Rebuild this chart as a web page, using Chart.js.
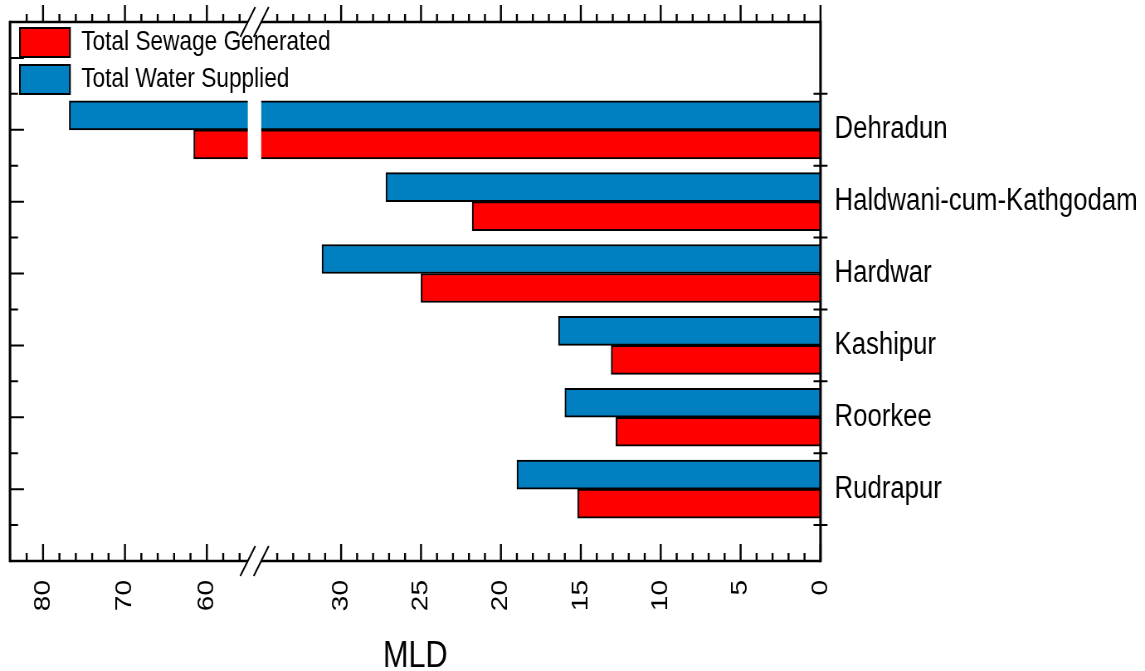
<!DOCTYPE html>
<html>
<head>
<meta charset="utf-8">
<title>Total Sewage Generated vs Total Water Supplied</title>
<script src="https://cdn.jsdelivr.net/npm/chart.js@4.4.1/dist/chart.umd.min.js"></script>
<style>
  html, body { margin: 0; padding: 0; background: #fff; }
  canvas { display: block; }
</style>
</head>
<body>
<!-- drawn 1380 wide, shown 1145 wide: the original figure is horizontally condensed -->
<canvas id="myChart" width="1380" height="671" style="width:1145px;height:671px"></canvas>
<script>
// data (MLD)
const cities = ['Dehradun', 'Haldwani-cum-Kathgodam', 'Hardwar', 'Kashipur', 'Roorkee', 'Rudrapur'];
const waterSupplied = [76.8, 27.2, 31.2, 16.4, 16.0, 19.0];
const sewageGenerated = [61.6, 21.8, 25.0, 13.1, 12.8, 15.2];
const lowerTicks = [0, 5, 10, 15, 20, 25, 30];
const upperTicks = [60, 70, 80];

// broken axis: 0..35 at full scale, 55..84 compressed
const breakLow = 35;
const breakHigh = 55;
const gap = 0.84;
const upperRatio = 0.5125;
const axisMax = 50.72;

function toAxis(v) {
    if (v <= breakLow) return v;
    return breakLow + gap + (v - breakHigh) * upperRatio;
}

const sx = 1380 / 1145; // canvas units per screen pixel, horizontally
const font = "'Liberation Sans', Arial, sans-serif";
const allTicks = lowerTicks.concat(upperTicks);

const framePlugin = {
    id: 'framePlugin',
    afterLayout(chart) {
        // legend sits inside the plot frame, top left
        chart.legend.left = 16;
        chart.legend.top = 20;
    },
    afterDatasetsDraw(chart) {
        const { ctx, chartArea: a, scales: { x, y } } = chart;
        const xa = x.getPixelForValue(breakLow + gap);
        const xb = x.getPixelForValue(breakLow);
        const top = y.getPixelForValue(-0.5);
        ctx.save();
        ctx.fillStyle = '#fff';
        ctx.fillRect(xa, top, xb - xa, a.bottom - top);
        ctx.restore();
    },
    afterDraw(chart) {
        const { ctx, chartArea: a, scales: { x, y } } = chart;
        ctx.save();
        ctx.strokeStyle = '#000';
        ctx.lineWidth = 2.5;
        ctx.beginPath();
        ctx.moveTo(a.left, a.top); ctx.lineTo(a.right, a.top);
        ctx.moveTo(a.left, a.bottom); ctx.lineTo(a.right, a.bottom);
        ctx.stroke();
        ctx.lineWidth = 2.5 * sx;
        ctx.beginPath();
        ctx.moveTo(a.left, a.top - 1.25); ctx.lineTo(a.left, a.bottom + 1.25);
        ctx.moveTo(a.right, a.top - 1.25); ctx.lineTo(a.right, a.bottom + 1.25);
        ctx.stroke();

        ctx.lineWidth = 2 * sx;
        ctx.beginPath();
        // x ticks, bottom inward and top outward
        const xt = [];
        for (let v = 0; v <= 34; v++) xt.push([toAxis(v), v % 5 === 0 ? 17 : 8]);
        for (let v = 56; v <= 84; v += 2) xt.push([toAxis(v), v % 10 === 0 ? 17 : 8]);
        xt.forEach(([d, len]) => {
            const px = x.getPixelForValue(d);
            if (px < a.left + 3) return;
            ctx.moveTo(px, a.bottom);
            ctx.lineTo(px, a.bottom - len);
            ctx.moveTo(px, a.top);
            ctx.lineTo(px, a.top - len);
        });
        ctx.stroke();

        // left ticks inward, right ticks crossing
        ctx.lineWidth = 2;
        ctx.beginPath();
        for (let v = -1; v <= 5.5; v += 0.5) {
            const py = y.getPixelForValue(v);
            const len = (Number.isInteger(v) ? 14 : 8) * sx;
            ctx.moveTo(a.left, py);
            ctx.lineTo(a.left + len, py);
            if (!Number.isInteger(v)) {
                ctx.moveTo(a.right - 7 * sx, py);
                ctx.lineTo(a.right + 7 * sx, py);
            }
        }
        ctx.stroke();

        // break marks
        const xa = x.getPixelForValue(breakLow + gap);
        const xb = x.getPixelForValue(breakLow);
        ctx.lineWidth = 2;
        [a.top, a.bottom].forEach(yy => {
            ctx.fillStyle = '#fff';
            ctx.fillRect(xa, yy - 2, xb - xa, 4);
            ctx.beginPath();
            [xa, xb].forEach(cx => {
                ctx.moveTo(cx - 7.5 * sx, yy + 15);
                ctx.lineTo(cx + 7.5 * sx, yy - 15);
            });
            ctx.stroke();
        });
        ctx.restore();
    }
};

const ctx = document.getElementById('myChart').getContext('2d');

const myChart = new Chart(ctx, {
    type: 'bar',
    data: {
        datasets: [{
            label: 'Total Water Supplied',
            data: waterSupplied.map((v, i) => ({ x: toAxis(v), y: i })),
            backgroundColor: '#0080C0',
            borderColor: '#000',
            borderWidth: 2
        }, {
            label: 'Total Sewage Generated',
            data: sewageGenerated.map((v, i) => ({ x: toAxis(v), y: i })),
            backgroundColor: '#FF0000',
            borderColor: '#000',
            borderWidth: 2
        }]
    },
    options: {
        responsive: false,
        animation: false,
        indexAxis: 'y',
        barThickness: 29,
        layout: { padding: { left: 10 * sx, top: 22, right: 0, bottom: 0 } },
        plugins: {
            tooltip: { enabled: false },
            legend: {
                position: 'chartArea',
                align: 'start',
                reverse: true,
                labels: {
                    boxWidth: 50 * sx,
                    boxHeight: 29,
                    padding: 8,
                    color: '#000',
                    font: { family: font, size: 27.3 }
                }
            }
        },
        scales: {
            x: {
                type: 'linear',
                position: 'bottom',
                reverse: true,
                offset: false,
                min: 0,
                max: axisMax,
                grid: { display: false, drawTicks: false },
                border: { display: false },
                afterBuildTicks: s => { s.ticks = allTicks.map(v => ({ value: toAxis(v) })); },
                afterFit: s => { s.height = 110; },
                ticks: {
                    autoSkip: false,
                    minRotation: 90,
                    maxRotation: 90,
                    padding: 19,
                    color: '#000',
                    font: { family: font, size: 28 },
                    callback: (val, i) => String(allTicks[i])
                },
                title: {
                    display: true,
                    text: 'MLD',
                    color: '#000',
                    font: { family: font, size: 37, lineHeight: 1 },
                    padding: { top: 20, bottom: -4 }
                }
            },
            y: {
                type: 'linear',
                position: 'right',
                reverse: true,
                offset: false,
                min: -1.5,
                max: 6,
                grid: { display: false, drawTicks: false },
                border: { display: false },
                afterBuildTicks: s => { s.ticks = cities.map((c, i) => ({ value: i })); },
                afterFit: s => {
                    s.width = 324.5 * sx;
                    s.paddingTop = 0;
                    s.paddingBottom = 0;
                },
                ticks: {
                    autoSkip: false,
                    padding: 14 * sx,
                    color: '#000',
                    font: { family: font, size: 31 },
                    callback: val => cities[val]
                }
            }
        }
    },
    plugins: [framePlugin]
});
</script>
</body>
</html>
